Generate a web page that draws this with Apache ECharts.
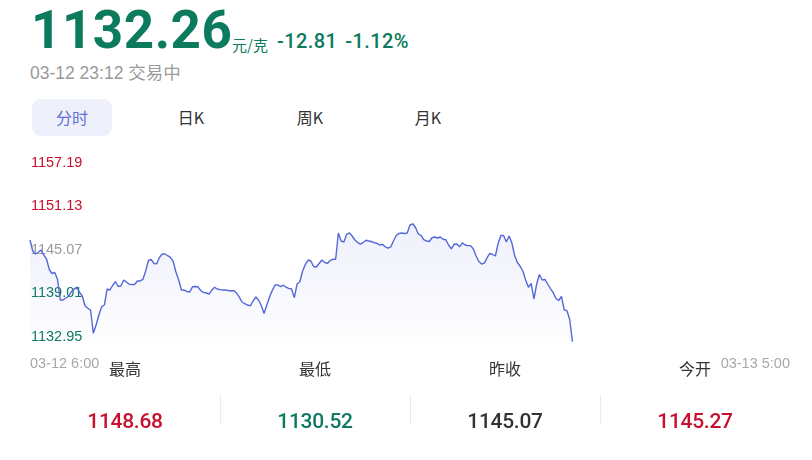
<!DOCTYPE html>
<html>
<head>
<meta charset="utf-8">
<script src="https://cdn.jsdelivr.net/npm/echarts@6/dist/echarts.min.js"></script>
<style>
  html, body { margin: 0; padding: 0; background: #fff; width: 812px; height: 460px; overflow: hidden; }
  body { position: relative; font-family: Roboto, "Noto Sans CJK SC", "Noto Sans", sans-serif; }
  .abs { position: absolute; white-space: nowrap; }
  #price { left: 31px; top: -1px; font-size: 53px; font-weight: 700; color: #0b7a5d; letter-spacing: 0.5px; }
  #unit { left: 232px; top: 34px; font-size: 15px; color: #0b7a5d; font-family: "Noto Sans CJK SC", sans-serif; }
  #chg { left: 277px; top: 29px; font-size: 20px; font-weight: 500; letter-spacing: 0.4px; color: #0b7a5d; font-family: Roboto, sans-serif; }
  #chg span { margin-left: 8px; }
  #time { left: 30px; top: 59px; font-size: 17.5px; color: #9a9a9a; font-family: "Liberation Sans", "Noto Sans CJK SC", sans-serif; }
  #time span { font-family: "Noto Sans CJK SC", sans-serif; font-size: 17.5px; }
  .tab { top: 99px; height: 37px; line-height: 37px; font-size: 16px; color: #333; text-align: center; width: 80px; font-family: "Noto Sans CJK SC", "Liberation Sans", sans-serif; }
  .tab.on { background: #eef1fc; color: #6272d6; border-radius: 9px; }
  #chart { position: absolute; left: 0; top: 140px; width: 812px; height: 240px; }
  .lab { top: 356px; width: 120px; text-align: center; font-size: 16px; color: #333; font-family: "Noto Sans CJK SC", sans-serif; }
  .val { top: 409px; width: 120px; text-align: center; font-size: 21px; font-weight: 500; letter-spacing: -0.3px; font-family: Roboto, "Liberation Sans", sans-serif; }
  .sep { top: 395px; width: 1px; height: 30px; background: #ececec; }
</style>
</head>
<body>
<div id="price" class="abs"></div>
<div id="unit" class="abs">元/克</div>
<div id="chg" class="abs"></div>
<div id="time" class="abs"></div>
<div id="tabs"></div>
<div id="chart"></div>
<div id="stats"></div>
<script>
// ---- header data ----
const lastPrice = '1132.26';
const change = '-12.81';
const changePct = '-1.12%';
const quoteTime = '03-12 23:12';
const status = '交易中';
const tabNames = ['分时', '日K', '周K', '月K'];
const tabCenters = [72, 191, 310, 428];

// ---- stats ----
const statNames = ['最高', '最低', '昨收', '今开'];
const statValues = ['1148.68', '1130.52', '1145.07', '1145.27'];
const statColors = ['#c8102e', '#0e7a61', '#333333', '#c8102e'];
const statCenters = [125, 315, 505, 695];

// ---- chart data ----
const prevClose = 1145.07;
const yTicks = [1132.95, 1139.01, 1145.07, 1151.13, 1157.19];
const xEndLabels = ['03-12 6:00', '03-13 5:00'];
const slotCount = 277; // 5-minute slots from 6:00 to 5:00 next day
const prices = [
  1146.42, 1144.89, 1144.47, 1144.71, 1145.03, 1144.33, 1143.77, 1142.31, 1141.75, 1141.89,
  1140.92, 1138.06, 1138.06, 1138.34, 1138.55, 1139.22, 1139.59, 1139.87, 1139.11, 1138.62,
  1137.23, 1136.90, 1136.67, 1133.42, 1134.58, 1135.97, 1137.09, 1137.36, 1139.59, 1139.45,
  1140.08, 1140.61, 1139.94, 1140.01, 1140.85, 1140.57, 1140.25, 1140.21, 1140.22, 1140.71,
  1140.71, 1140.92, 1142.10, 1143.56, 1143.70, 1143.15, 1143.11, 1143.98, 1144.47, 1144.47,
  1144.23, 1144.01, 1143.43, 1141.96, 1140.85, 1139.45, 1139.45, 1139.25, 1139.18, 1139.90,
  1139.94, 1139.90, 1139.38, 1139.13, 1139.04, 1138.90, 1139.41, 1139.84, 1139.59, 1139.50,
  1139.45, 1139.45, 1139.38, 1139.31, 1139.38, 1139.04, 1138.45, 1137.78, 1137.56, 1137.36,
  1137.23, 1137.92, 1138.48, 1138.06, 1137.29, 1136.18, 1137.36, 1138.48, 1139.41, 1140.15,
  1140.15, 1139.92, 1140.12, 1139.84, 1139.69, 1139.59, 1138.38, 1140.29, 1140.61, 1142.10,
  1143.01, 1143.63, 1143.49, 1142.73, 1142.66, 1143.15, 1143.63, 1143.29, 1143.15, 1143.56,
  1143.73, 1143.73, 1147.40, 1146.28, 1146.14, 1147.21, 1147.40, 1146.98, 1146.42, 1146.07,
  1145.86, 1146.07, 1146.38, 1146.28, 1146.21, 1146.04, 1145.96, 1145.72, 1145.82, 1145.47,
  1145.28, 1145.45, 1146.28, 1147.05, 1147.35, 1147.40, 1147.32, 1147.40, 1148.51, 1148.68,
  1148.16, 1147.26, 1147.05, 1146.46, 1146.28, 1146.21, 1146.73, 1146.84, 1146.70, 1146.84,
  1146.52, 1146.45, 1145.72, 1145.17, 1145.82, 1145.86, 1145.47, 1146.03, 1145.72, 1145.64,
  1145.63, 1145.17, 1144.19, 1143.43, 1143.08, 1143.19, 1143.95, 1144.57, 1144.40, 1144.19,
  1145.93, 1147.05, 1147.05, 1146.14, 1146.98, 1146.00, 1144.26, 1143.29, 1142.76, 1142.07,
  1140.85, 1139.83, 1140.36, 1138.20, 1140.29, 1141.61, 1140.85, 1140.92, 1140.29, 1139.66,
  1139.09, 1138.27, 1137.99, 1138.55, 1136.70, 1136.57, 1135.34, 1132.26
];

// ---- build header / tabs / stats ----
document.getElementById('price').textContent = lastPrice;
document.getElementById('chg').innerHTML = change + '<span>' + changePct + '</span>';
document.getElementById('time').innerHTML = quoteTime + ' <span>' + status + '</span>';
const tabsEl = document.getElementById('tabs');
tabNames.forEach((t, i) => {
  const d = document.createElement('div');
  d.className = 'abs tab' + (i === 0 ? ' on' : '');
  d.style.left = (tabCenters[i] - 40) + 'px';
  d.textContent = t;
  tabsEl.appendChild(d);
});
const statsEl = document.getElementById('stats');
statNames.forEach((n, i) => {
  const l = document.createElement('div');
  l.className = 'abs lab';
  l.style.left = (statCenters[i] - 60) + 'px';
  l.textContent = n;
  statsEl.appendChild(l);
  const v = document.createElement('div');
  v.className = 'abs val';
  v.style.left = (statCenters[i] - 60) + 'px';
  v.style.color = statColors[i];
  v.textContent = statValues[i];
  statsEl.appendChild(v);
  if (i > 0) {
    const s = document.createElement('div');
    s.className = 'abs sep';
    s.style.left = (statCenters[i] - 95) + 'px';
    statsEl.appendChild(s);
  }
});

// ---- categories (5-minute slots) ----
const categories = [];
for (let i = 0; i < slotCount; i++) {
  const m = 6 * 60 + i * 5;
  const day = m >= 1440 ? '03-13' : '03-12';
  const mm = m % 1440;
  categories.push(day + ' ' + Math.floor(mm / 60) + ':' + String(mm % 60).padStart(2, '0'));
}

const chart = echarts.init(document.getElementById('chart'), null, { renderer: 'canvas' });
chart.setOption({
  animation: false,
  grid: { left: 30, right: 22, top: 22.7, bottom: 36.5, containLabel: false },
  xAxis: {
    type: 'category',
    data: categories,
    boundaryGap: false,
    axisLine: { show: false },
    axisTick: { show: false },
    splitLine: { show: false },
    axisLabel: {
      interval: (idx) => idx === 0 || idx === slotCount - 1,
      formatter: (v, idx) => (idx === 0 ? xEndLabels[0] : xEndLabels[1]),
      alignMinLabel: 'left',
      alignMaxLabel: 'right',
      color: '#a8a8a8',
      fontSize: 14.5,
      fontFamily: 'Liberation Sans, Arial, sans-serif',
      margin: 13
    }
  },
  yAxis: {
    type: 'value',
    min: 1132.0,
    max: yTicks[yTicks.length - 1],
    axisLine: { show: false },
    axisTick: { show: false },
    splitLine: { show: false },
    axisLabel: {
      customValues: yTicks,
      inside: true,
      margin: 1,
      fontSize: 14.5,
      fontFamily: 'Liberation Sans, Arial, sans-serif',
      formatter: (v) => Number(v).toFixed(2),
      color: (v) => {
        const n = Number(v);
        if (Math.abs(n - prevClose) < 0.001) return '#9a9a9a';
        return n > prevClose ? '#c8102e' : '#0e7a61';
      }
    }
  },
  series: [{
    type: 'line',
    data: prices,
    symbol: 'none',
    z: 1,
    lineStyle: { color: '#5568d8', width: 1.4 },
    itemStyle: { color: '#5568d8' },
    areaStyle: {
      color: new echarts.graphic.LinearGradient(0, 0, 0, 1, [
        { offset: 0, color: 'rgba(92,111,217,0.14)' },
        { offset: 1, color: 'rgba(92,111,217,0.01)' }
      ])
    }
  }]
});
</script>
</body>
</html>
